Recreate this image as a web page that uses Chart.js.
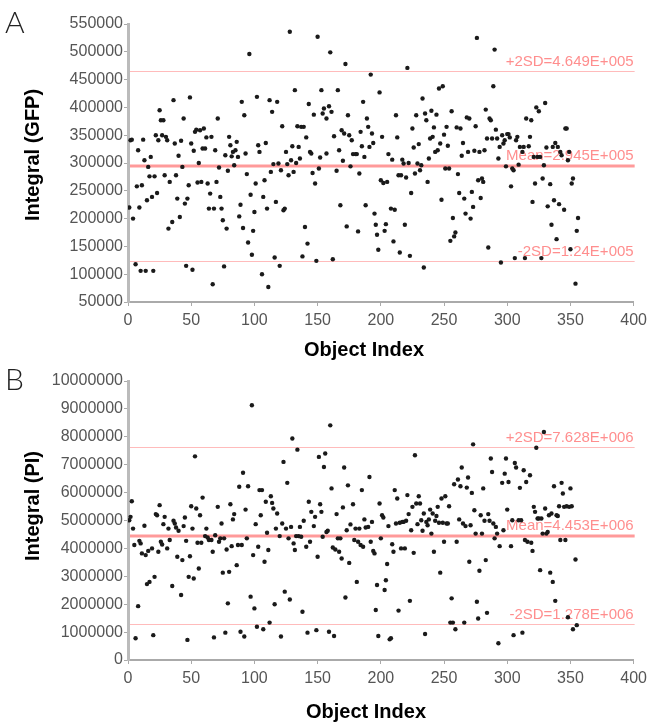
<html>
  <head>
    <script src="https://cdn.jsdelivr.net/npm/chart.js"></script>
    <style>
      body { margin: 0; background: #fff; }
      .panel { position: absolute; left: 0; width: 652px; }
    </style>
  </head>
  <body>
    <div class="panel" style="top:0;height:362px"><canvas id="chartA"></canvas></div>
    <div class="panel" style="top:362px;height:365px"><canvas id="chartB"></canvas></div>
    <script>
      // panel A: GFP integral per object, [object index, value]
      const gfpPoints = [
        [1,220000],[2,341000],[3,342000],[4,200000],[6,118000],[7,258000],[8,323000],[9,220000],[10,106000],[11,260000],
        [12,342000],[13,305000],[14,106000],[15,233000],[16,293000],[17,276000],[18,311000],[19,239000],[20,106000],[21,276000],
        [22,350000],[23,246000],[24,341000],[25,395000],[26,377000],[27,350000],[28,377000],[29,278000],[30,347000],[31,341000],
        [32,182000],[33,266000],[35,194000],[36,413000],[37,335000],[38,278000],[39,236000],[40,313000],[41,203000],[42,340000],
        [43,293000],[44,380000],[45,227000],[46,115000],[47,236000],[48,260000],[49,418000],[50,335000],[51,108000],[52,322000],
        [53,356000],[54,360000],[55,265000],[56,300000],[57,359000],[58,266000],[59,326000],[60,362000],[61,326000],[62,346000],
        [63,263000],[64,218000],[65,245000],[66,347000],[67,82000],[68,218000],[69,323000],[70,266000],[71,380000],[72,292000],
        [73,239000],[74,218000],[75,197000],[76,114000],[77,314000],[78,182000],[79,286000],[80,347000],[81,332000],[82,312000],
        [83,320000],[84,296000],[85,323000],[86,338000],[87,311000],[88,204000],[89,225000],[90,410000],[91,183000],[92,386000],
        [93,317000],[94,280000],[95,157000],[96,496000],[97,243000],[98,135000],[99,178000],[100,212000],[101,263000],[102,419000],
        [103,332000],[104,320000],[106,100000],[107,239000],[108,269000],[109,336000],[110,218000],[111,77000],[112,413000],[113,284000],
        [114,392000],[115,298000],[116,130000],[117,230000],[118,410000],[119,299000],[120,115000],[121,287000],[122,366000],[123,215000],
        [124,218000],[125,320000],[126,298000],[127,278000],[128,536000],[129,305000],[130,330000],[131,284000],[132,431000],[133,300000],
        [134,366000],[135,329000],[136,308000],[137,365000],[138,132000],[139,365000],[140,185000],[141,346000],[142,155000],[143,406000],
        [144,320000],[145,317000],[146,282000],[147,387000],[148,263000],[149,124000],[150,527000],[151,290000],[152,310000],[153,431000],
        [154,389000],[155,398000],[157,317000],[157,380000],[159,402000],[161,392000],[160,499000],[163,348000],[162,127000],[165,286000],
        [166,431000],[167,323000],[168,224000],[169,359000],[170,304000],[171,353000],[172,478000],[173,186000],[174,386000],[175,350000],
        [176,294000],[177,341000],[178,316000],[180,316000],[181,316000],[182,177000],[183,281000],[184,356000],[185,330000],[186,410000],
        [187,311000],[188,224000],[189,380000],[190,365000],[191,329000],[192,459000],[193,353000],[194,336000],[195,209000],[196,189000],
        [197,171000],[198,144000],[199,427000],[200,269000],[201,347000],[202,264000],[203,178000],[204,190000],[205,266000],[206,316000],
        [208,218000],[209,306000],[210,159000],[211,216000],[212,386000],[213,346000],[214,278000],[215,139000],[216,278000],[217,306000],
        [218,299000],[219,189000],[220,274000],[221,471000],[222,300000],[223,133000],[224,246000],[225,362000],[226,328000],[227,281000],
        [228,386000],[229,299000],[230,334000],[231,287000],[232,296000],[233,416000],[234,112000],[235,389000],[236,377000],[237,266000],
        [238,308000],[239,344000],[240,394000],[241,347000],[242,364000],[243,320000],[244,387000],[245,323000],[246,434000],[247,335000],
        [248,234000],[249,438000],[250,351000],[251,290000],[252,365000],[253,331000],[254,290000],[255,160000],[256,393000],[257,201000],
        [258,168000],[259,175000],[260,364000],[261,280000],[262,246000],[263,362000],[264,313000],[265,336000],[266,236000],[267,209000],
        [268,382000],[269,320000],[270,380000],[271,200000],[272,248000],[273,221000],[274,322000],[275,366000],[276,525000],[277,269000],
        [278,320000],[279,237000],[280,272000],[281,266000],[282,323000],[283,396000],[284,344000],[285,148000],[286,380000],[287,377000],
        [288,344000],[289,438000],[290,504000],[291,360000],[292,344000],[293,308000],[294,329000],[295,121000],[296,350000],[297,335000],
        [298,341000],[299,294000],[300,352000],[301,352000],[302,346000],[303,258000],[304,290000],[305,287000],[306,129000],[307,341000],
        [308,347000],[309,297000],[310,329000],[312,320000],[313,329000],[314,129000],[315,380000],[317,330000],[318,347000],[319,377000],
        [320,230000],[321,311000],[322,263000],[323,400000],[324,311000],[325,393000],[326,311000],[327,129000],[328,272000],[329,296000],
        [330,408000],[331,328000],[332,222000],[334,262000],[335,189000],[336,329000],[337,233000],[338,336000],[339,163000],[340,329000],
        [341,226000],[342,320000],[343,314000],[345,216000],[346,362000],[347,362000],[348,305000],[349,320000],[350,145000],[351,263000],
        [352,272000],[354,83000],[355,178000],[356,201000]
      ];

      // panel B: PI integral per object, [object index, value]
      const piPoints = [
        [1,5010000],[2,5130000],[3,5690000],[4,4710000],[5,4120000],[6,780000],[8,1930000],[9,4270000],[10,4180000],[11,3820000],
        [13,4810000],[14,3760000],[15,2720000],[16,3910000],[17,2800000],[19,4000000],[20,890000],[21,2980000],[22,5230000],[23,5190000],
        [24,3880000],[25,5550000],[26,4240000],[27,4140000],[28,4870000],[29,5130000],[31,4000000],[32,4710000],[33,4300000],[35,2650000],
        [36,4990000],[37,4890000],[38,4750000],[39,3700000],[40,4630000],[42,2330000],[43,3580000],[44,4800000],[45,5110000],[46,4270000],
        [47,720000],[48,2980000],[49,3720000],[50,5510000],[51,4710000],[52,2920000],[53,7300000],[54,5430000],[55,4200000],[56,3280000],
        [57,5190000],[58,4200000],[59,5820000],[61,4440000],[62,4710000],[63,4390000],[64,4300000],[66,4300000],[67,3880000],[68,810000],
        [69,4470000],[71,5490000],[72,4240000],[73,4360000],[74,4890000],[75,3130000],[76,4360000],[77,980000],[78,3960000],[79,2030000],
        [80,3160000],[81,5580000],[82,4080000],[83,5040000],[84,5230000],[86,3400000],[87,4120000],[88,6210000],[89,1010000],[90,4120000],
        [91,6710000],[92,840000],[93,5390000],[94,4360000],[95,6230000],[97,2270000],[98,9130000],[99,3760000],[100,1850000],[101,4870000],
        [102,1190000],[103,4060000],[104,6090000],[105,5190000],[106,6090000],[107,1100000],[108,3520000],[109,5670000],[110,4560000],[111,3940000],
        [112,1340000],[113,5870000],[114,5630000],[115,5430000],[116,2000000],[117,4710000],[118,5250000],[120,4440000],[121,840000],[122,4890000],
        [123,7100000],[124,2450000],[125,4710000],[126,6350000],[127,4360000],[128,2170000],[129,4770000],[130,7940000],[131,4180000],[132,3940000],
        [133,4440000],[134,7540000],[135,4440000],[136,4770000],[137,4420000],[138,1730000],[139,4990000],[141,4060000],[142,980000],[143,5670000],
        [144,4240000],[145,5310000],[147,4800000],[148,5130000],[149,1070000],[150,3700000],[151,7280000],[152,5580000],[153,5310000],[154,4420000],
        [155,6920000],[156,7400000],[157,4590000],[158,4630000],[159,1010000],[160,8410000],[161,6150000],[162,4030000],[163,860000],[164,3960000],
        [165,5230000],[166,4360000],[167,3880000],[168,4360000],[169,3640000],[170,5470000],[171,6900000],[172,2240000],[173,4650000],[174,6260000],
        [175,3480000],[176,4860000],[178,5580000],[179,4300000],[180,4710000],[181,2800000],[182,4240000],[183,4710000],[184,4120000],[185,6090000],
        [186,4060000],[187,5040000],[188,4750000],[190,4770000],[191,6560000],[192,4240000],[193,4950000],[194,3910000],[195,3820000],[196,1790000],
        [197,2690000],[198,860000],[199,5610000],[200,4360000],[201,5190000],[202,5110000],[203,2510000],[204,2860000],[205,3440000],[206,4800000],
        [207,740000],[208,780000],[209,4150000],[210,3880000],[211,6090000],[212,4890000],[213,5790000],[214,1770000],[215,4920000],[216,4000000],
        [217,4950000],[218,4950000],[219,4000000],[220,4990000],[221,5910000],[222,5230000],[223,2120000],[224,4650000],[225,5490000],[226,3840000],
        [227,7340000],[228,5610000],[229,4870000],[230,5870000],[231,5610000],[232,5010000],[233,4630000],[234,5250000],[235,930000],[236,4950000],
        [237,4830000],[238,5040000],[239,5390000],[240,4530000],[241,5250000],[242,3880000],[243,4990000],[244,5160000],[245,5490000],[246,4920000],
        [247,3130000],[248,5790000],[249,4920000],[250,4240000],[251,5870000],[252,4890000],[253,4890000],[254,5510000],[255,1340000],[256,2210000],
        [257,1340000],[258,6300000],[259,1100000],[260,4240000],[261,6470000],[262,5040000],[263,6230000],[264,6900000],[265,4890000],[266,1340000],
        [267,4800000],[268,6180000],[269,6540000],[270,3520000],[271,4830000],[272,5990000],[273,7730000],[274,5370000],[275,4530000],[276,2090000],
        [277,1490000],[278,3200000],[279,5190000],[280,4530000],[281,6150000],[282,4990000],[283,3580000],[284,1690000],[285,5230000],[286,4990000],
        [287,7220000],[288,6740000],[289,4890000],[290,4360000],[291,4770000],[292,4530000],[293,600000],[294,4080000],[296,6350000],[297,4650000],
        [298,6680000],[299,7220000],[300,5390000],[301,6380000],[303,4080000],[304,5010000],[305,890000],[306,7060000],[307,6900000],[309,5010000],
        [310,6170000],[311,5010000],[312,980000],[313,6800000],[314,4300000],[315,6380000],[316,4240000],[318,6620000],[319,4200000],[320,3910000],
        [321,5490000],[322,5310000],[323,7610000],[324,5070000],[325,5070000],[326,3220000],[327,5070000],[328,4530000],[329,8170000],[330,5430000],
        [331,4530000],[332,4590000],[333,5190000],[334,3130000],[335,5250000],[336,2800000],[337,6230000],[338,2120000],[339,5190000],[340,5160000],
        [341,5510000],[342,4300000],[343,6350000],[344,5970000],[345,5490000],[346,4300000],[347,5510000],[348,1530000],[349,5490000],[350,6150000],
        [351,5510000],[352,1100000],[354,3600000],[355,1250000]
      ];

      // reference lines (mean +/- 2SD)
      const gfpStats = { plus2: 464900, mean: 294500, minus2: 124000 };
      const piStats = { plus2: 7628000, mean: 4453000, minus2: 1278000 };
      const gfpLabels = ['+2SD=4.649E+005', 'Mean=2.945E+005', '-2SD=1.24E+005'];
      const piLabels = ['+2SD=7.628E+006', 'Mean=4.453E+006', '-2SD=1.278E+006'];

      const sans = '"Liberation Sans", Arial, sans-serif';
      const pink = 'rgba(255, 130, 130, 0.9)';

      const refLines = {
        id: 'refLines',
        beforeDatasetsDraw(chart, args, opts) {
          const { ctx, chartArea: a, scales: { y } } = chart;
          opts.lines.forEach(l => {
            const py = Math.round(y.getPixelForValue(l.value)) + (l.width > 1 ? 0 : 0.5);
            ctx.save();
            ctx.strokeStyle = l.width > 1 ? 'rgba(255, 120, 120, 0.75)' : 'rgba(255, 170, 170, 0.8)';
            ctx.lineWidth = l.width;
            ctx.beginPath();
            ctx.moveTo(a.left + 2, py);
            ctx.lineTo(a.right + 1, py);
            ctx.stroke();
            ctx.fillStyle = pink;
            ctx.font = '15px ' + sans;
            ctx.textAlign = 'right';
            ctx.textBaseline = 'alphabetic';
            ctx.fillText(l.text, a.right, py - 6);
            ctx.restore();
          });
        }
      };

      const titles = {
        id: 'titles',
        afterDraw(chart, args, opts) {
          const { ctx } = chart;
          ctx.save();
          ctx.fillStyle = '#222';
          ctx.font = '300 30px Lato, "Liberation Sans", sans-serif';
          ctx.textAlign = 'left';
          ctx.textBaseline = 'top';
          ctx.fillText(opts.letter, opts.letterX, opts.letterY);
          ctx.fillStyle = '#000';
          ctx.font = 'bold 20px ' + sans;
          ctx.textAlign = 'center';
          ctx.textBaseline = 'middle';
          ctx.fillText('Object Index', opts.xTitleX, opts.xTitleY);
          ctx.translate(opts.yTitleX, opts.yTitleY);
          ctx.rotate(-Math.PI / 2);
          ctx.fillText(opts.yTitle, 0, 0);
          ctx.restore();
        }
      };

      function makePanel(id, points, stats, labels, yMin, yMax, yStep, geo) {
        const ctx = document.getElementById(id).getContext('2d');
        return new Chart(ctx, {
          type: 'scatter',
          data: {
            datasets: [{
              data: points.map(p => ({ x: p[0], y: p[1] })),
              backgroundColor: '#1a1a1a',
              borderColor: '#1a1a1a',
              pointRadius: 2.2,
              pointBorderWidth: 0
            }]
          },
          options: {
            responsive: true,
            maintainAspectRatio: false,
            animation: false,
            layout: { padding: { top: geo.top, right: geo.right, left: 0, bottom: 0 } },
            plugins: {
              legend: { display: false },
              tooltip: { enabled: false },
              refLines: {
                lines: [
                  { value: stats.plus2, text: labels[0], width: 1 },
                  { value: stats.mean, text: labels[1], width: 3 },
                  { value: stats.minus2, text: labels[2], width: 1 }
                ]
              },
              titles: geo.titles
            },
            scales: {
              x: {
                type: 'linear',
                min: 0,
                max: 400,
                ticks: { stepSize: 50, color: '#555', padding: 5, font: { family: sans, size: 16 }, maxRotation: 0 },
                grid: { drawOnChartArea: false, drawTicks: true, tickLength: 4, color: '#aaa' },
                border: { color: '#aaa', width: 2 },
                afterFit: s => { s.height = geo.xHeight; }
              },
              y: {
                min: yMin,
                max: yMax,
                ticks: { stepSize: yStep, color: '#555', padding: 1, font: { family: sans, size: 16 }, callback: v => String(v) },
                grid: { drawOnChartArea: false, drawTicks: true, tickLength: 4, color: '#aaa' },
                border: { color: '#bbb', width: 3 },
                afterFit: s => { s.width = 128; }
              }
            }
          },
          plugins: [refLines, titles]
        });
      }

      makePanel('chartA', gfpPoints, gfpStats, gfpLabels, 50000, 550000, 50000, {
        top: 24, right: 16, xHeight: 60,
        titles: { letter: 'A', letterX: 5, letterY: 8, yTitle: 'Integral (GFP)', yTitleX: 33, yTitleY: 155, xTitleX: 364, xTitleY: 350 }
      });
      makePanel('chartB', piPoints, piStats, piLabels, 0, 10000000, 1000000, {
        top: 19, right: 12, xHeight: 67,
        titles: { letter: 'B', letterX: 5, letterY: 3, yTitle: 'Integral (PI)', yTitleX: 33, yTitleY: 144, xTitleX: 366, xTitleY: 350 }
      });
    </script>
  </body>
</html>
